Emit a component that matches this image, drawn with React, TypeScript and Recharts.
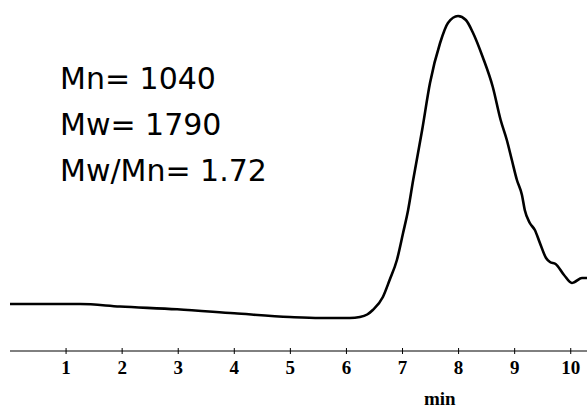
import { LineChart, Line, XAxis, YAxis } from 'recharts';

// retention time (min)
const times = [
  0, 1.25, 1.96, 2.98, 4.0, 4.99, 5.53, 6.06, 6.24, 6.37, 6.47, 6.65, 6.77, 6.9,
  7.01, 7.1, 7.19, 7.35, 7.49, 7.67, 7.81, 7.99, 8.13, 8.25, 8.43, 8.61, 8.75, 8.86,
  8.95, 9.04, 9.13, 9.18, 9.27, 9.36, 9.45, 9.56, 9.63, 9.73, 9.88, 10.02, 10.07,
  10.2, 10.29,
];
// detector signal (arbitrary units)
const signal = [
  47, 47, 44.5, 41.7, 37.7, 34, 33, 33, 34, 36.5, 41, 54, 71, 91,
  118, 141, 171, 221, 268, 308, 328, 335, 331, 319, 294, 264, 231, 211,
  191, 171, 156, 141, 128, 121, 108, 93, 89, 87, 76, 68, 69,
  73, 73,
];
const xTicks = [1, 2, 3, 4, 5, 6, 7, 8, 9, 10];
const notes = ['Mn= 1040', 'Mw= 1790', 'Mw/Mn= 1.72'];

const data = times.map((t, i) => ({ t, v: signal[i] }));

const serif = '"Liberation Serif", "Times New Roman", serif';

const Tick = ({ x, y, payload }: any) => (
  <g>
    <line x1={x} x2={x} y1={y - 3} y2={y + 3} stroke="#000" strokeWidth={1} />
    <text x={x} y={y + 23} textAnchor="middle" fontFamily={serif} fontWeight="bold" fontSize={19} fill="#000">
      {payload.value}
    </text>
  </g>
);

export default function App() {
  return (
    <div style={{ position: 'absolute', left: 0, top: 0, width: 587, height: 410, background: '#fff' }}>
      <LineChart width={587} height={410} data={data} margin={{ top: 0, right: 0, left: 10, bottom: 0 }}>
        <XAxis
          dataKey="t"
          type="number"
          domain={[0, 10.285]}
          ticks={xTicks}
          height={59}
          tickSize={0}
          tickMargin={0}
          tickLine={false}
          axisLine={{ stroke: '#000', strokeWidth: 1 }}
          tick={<Tick />}
          interval={0}
          label={({ viewBox }: any) => (
            <text
              x={viewBox.x + viewBox.width * 0.745}
              y={405}
              textAnchor="middle"
              fontFamily={serif}
              fontWeight="bold"
              fontSize={19}
              fill="#000"
            >
              min
            </text>
          )}
        />
        <YAxis hide domain={[0, 351]} type="number" />
        <Line
          type="monotone"
          dataKey="v"
          stroke="#000"
          strokeWidth={2.6}
          dot={false}
          isAnimationActive={false}
        />
      </LineChart>
      {notes.map((n, i) => (
        <div
          key={n}
          style={{
            position: 'absolute',
            left: 60,
            top: 59 + i * 46,
            fontFamily: '"DejaVu Sans", sans-serif',
            fontSize: 30,
            lineHeight: '40px',
            color: '#000',
            whiteSpace: 'nowrap',
          }}
        >
          {n}
        </div>
      ))}
    </div>
  );
}
